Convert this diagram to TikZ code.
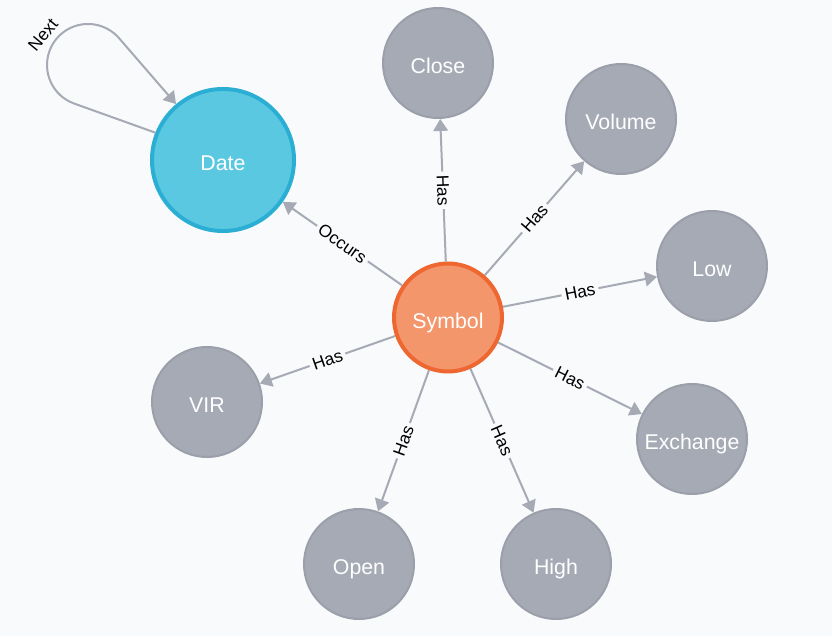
\documentclass[tikz,border=0pt]{standalone}
\usepackage{fontspec}
\setmainfont{Liberation Sans}
\usetikzlibrary{arrows.meta}
\definecolor{bg}{HTML}{F9FAFC}
\definecolor{nfill}{HTML}{A5AAB5}
\definecolor{nborder}{HTML}{9A9FAA}
\definecolor{dfill}{HTML}{5BC8E2}
\definecolor{dborder}{HTML}{2AAED3}
\definecolor{sfill}{HTML}{F4966C}
\definecolor{sborder}{HTML}{EE6630}
\definecolor{ecol}{HTML}{A5AAB5}
\begin{document}
\begin{tikzpicture}[x=0.75pt,y=0.75pt,
  base/.style={circle,inner sep=0pt,text=white,font=\fontsize{16}{18}\selectfont,text height=16pt,text depth=0pt},
  greynode/.style={base,fill=nfill,draw=nborder,line width=1.5pt,minimum size=82.5pt},
  datenode/.style={base,fill=dfill,draw=dborder,line width=3pt,minimum size=106.5pt},
  symnode/.style={base,fill=sfill,draw=sborder,line width=3pt,minimum size=81pt},
  link/.style={draw=ecol,line width=1.5pt,-{Triangle[length=9pt,width=11pt]}},
  lbl/.style={font=\fontsize{13}{15}\selectfont,fill=bg,inner sep=2.5pt,sloped,text=black}]
\fill[bg] (0,0) rectangle (832,636);
\useasboundingbox (0,0) rectangle (832,636);

\node[datenode] (Date) at (223,476) {Date};
\node[symnode] (Symbol) at (448,318.5) {Symbol};
\node[greynode] (Close) at (438,573) {Close};
\node[greynode] (Volume) at (621,517) {Volume};
\node[greynode] (Low) at (712,370) {Low};
\node[greynode] (Exchange) at (692,197) {Exchange};
\node[greynode] (High) at (556,72) {High};
\node[greynode] (Open) at (359,72) {Open};
\node[greynode] (VIR) at (207,234) {VIR};

\draw[link] (Symbol) -- node[lbl]{Occurs} (Date);
\draw[link] (Symbol) -- node[lbl]{Has} (Close);
\draw[link] (Symbol) -- node[lbl]{Has} (Volume);
\draw[link] (Symbol) -- node[lbl]{Has} (Low);
\draw[link] (Symbol) -- node[lbl]{Has} (Exchange);
\draw[link] (Symbol) -- node[lbl]{Has} (High);
\draw[link] (Symbol) -- node[lbl]{Has} (Open);
\draw[link] (Symbol) -- node[lbl]{Has} (VIR);

\coordinate (la) at (74,532.5);
\draw[link] (Date.158.6) -- (la) arc[start angle=250,end angle=42,radius=41] -- (Date.130);
\node[font=\fontsize{13}{15}\selectfont,rotate=50.5,inner sep=1pt] (nextlbl) at (43,601) {Next};
\end{tikzpicture}
\end{document}
